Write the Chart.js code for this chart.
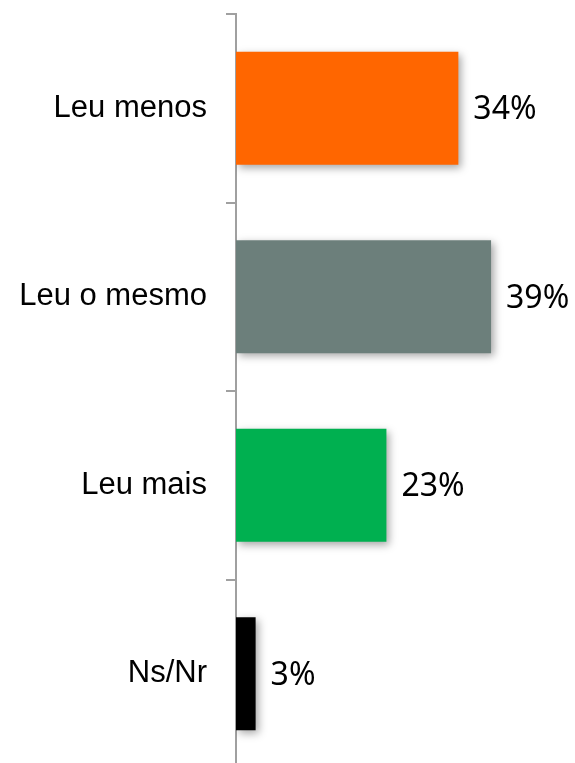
<!DOCTYPE html>
<html>
<head>
<meta charset="utf-8">
<script src="https://cdn.jsdelivr.net/npm/chart.js@4/dist/chart.umd.min.js"></script>
<style>
html,body{margin:0;padding:0;overflow:hidden;background:#fff;}
canvas{display:block;}
</style>
</head>
<body>
<canvas id="c" width="575" height="768"></canvas>
<script>
const categories = ["Leu menos", "Leu o mesmo", "Leu mais", "Ns/Nr"];
const values = [34, 39, 23, 3];
const valueLabels = ["34%", "39%", "23%", "3%"];
const barColors = ["#FF6600", "#6C7F7B", "#00B050", "#000000"];

const shadowPlugin = {
  id: 'shadow',
  beforeDatasetsDraw(chart) {
    const ctx = chart.ctx;
    ctx.save();
    ctx.shadowColor = 'rgba(0,0,0,0.35)';
    ctx.shadowBlur = 8;
    ctx.shadowOffsetX = 3;
    ctx.shadowOffsetY = 3;
  },
  afterDatasetsDraw(chart) {
    chart.ctx.restore();
    const ctx = chart.ctx;
    const meta = chart.getDatasetMeta(0);
    ctx.save();
    ctx.font = '32px "Noto Sans"';
    ctx.fillStyle = '#000';
    ctx.textAlign = 'left';
    ctx.textBaseline = 'middle';
    meta.data.forEach((bar, i) => {
      ctx.fillText(valueLabels[i], bar.x + 15, bar.y + 2);
    });
    ctx.restore();
  }
};

new Chart(document.getElementById('c'), {
  type: 'bar',
  data: {
    labels: categories,
    datasets: [{
      data: values,
      backgroundColor: barColors,
      borderWidth: 0,
      barPercentage: 0.6,
      categoryPercentage: 1
    }]
  },
  options: {
    indexAxis: 'y',
    responsive: false,
    animation: false,
    layout: { padding: { top: 14, right: 12, bottom: 0, left: 0 } },
    plugins: { legend: { display: false }, tooltip: { enabled: false } },
    scales: {
      x: { display: false, min: 0, max: 50 },
      y: {
        afterFit(scale) { scale.width = 236; scale.paddingTop = 0; scale.paddingBottom = 0; },
        grid: { drawOnChartArea: false, offset: true, tickLength: 10, color: '#A0A0A0', lineWidth: 2 },
        border: { display: true, color: '#A0A0A0', width: 2 },
        ticks: { color: '#000', font: { family: '"Liberation Sans", Arial, sans-serif', size: 31 }, padding: 19 }
      }
    }
  },
  plugins: [shadowPlugin]
});
</script>
</body>
</html>
